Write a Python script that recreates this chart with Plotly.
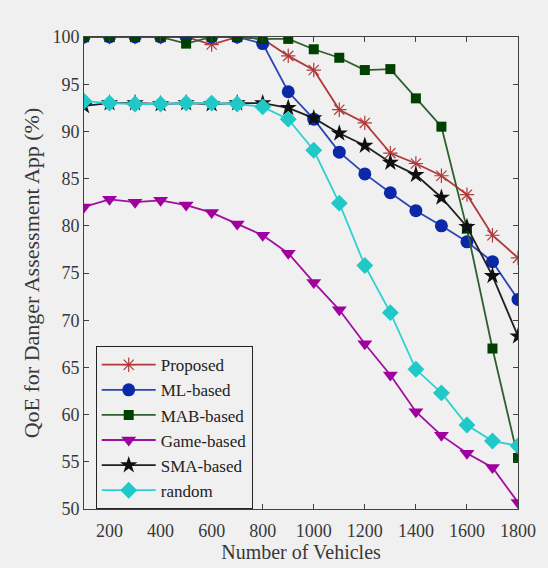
import plotly.graph_objects as go

vehicles = [100, 200, 300, 400, 500, 600, 700, 800, 900, 1000,
            1100, 1200, 1300, 1400, 1500, 1600, 1700, 1800]

proposed = [100, 100, 100, 100, 100, 99.2, 100, 99.8, 98.0, 96.5,
            92.3, 90.9, 87.7, 86.6, 85.3, 83.3, 79.0, 76.6]
ml_based = [100, 100, 100, 100, 100, 100, 100, 99.3, 94.2, 91.3,
            87.8, 85.5, 83.5, 81.6, 80.0, 78.3, 76.2, 72.2]
mab_based = [100, 100, 100, 100, 99.3, 100, 100, 99.8, 99.8, 98.7,
             97.8, 96.5, 96.6, 93.5, 90.5, 79.7, 67.0, 55.4]
game_based = [82.0, 82.8, 82.5, 82.7, 82.2, 81.4, 80.2, 79.0, 77.1, 74.0,
              71.1, 67.5, 64.2, 60.3, 57.8, 55.9, 54.4, 50.7]
sma_based = [92.7, 93.0, 93.0, 92.9, 93.0, 92.9, 93.0, 93.0, 92.5, 91.4,
             89.8, 88.5, 86.7, 85.4, 83.0, 79.9, 74.7, 68.3]
random_sel = [93.2, 93.0, 92.9, 92.9, 93.0, 93.0, 92.9, 92.6, 91.3, 88.0,
              82.4, 75.8, 70.8, 64.8, 62.3, 58.9, 57.2, 56.7]

x_ticks = [200, 400, 600, 800, 1000, 1200, 1400, 1600, 1800]
y_ticks = [50, 55, 60, 65, 70, 75, 80, 85, 90, 95, 100]

FONT = "Liberation Serif, Times New Roman, serif"
BG = "#f0f0f0"
TXT = "#383838"

series = [
    ("Proposed", proposed, "#b03a3a", dict(symbol="asterisk-open", size=12,
                                          line=dict(color="#a00000", width=1.2))),
    ("ML-based", ml_based, "#2a46b0", dict(symbol="circle", size=13, color="#0a28a8",
                                          line=dict(width=0))),
    ("MAB-based", mab_based, "#2f5e2f", dict(symbol="square", size=10, color="#004000",
                                            line=dict(width=0))),
    ("Game-based", game_based, "#a010a0", dict(symbol="triangle-down", size=13,
                                              color="#a000a0", line=dict(width=0))),
    ("SMA-based", sma_based, "#202020", dict(symbol="star", size=13, color="#101010",
                                            line=dict(width=0))),
    ("random", random_sel, "#30d0d0", dict(symbol="diamond", size=13, color="#20c8c8",
                                          line=dict(width=0))),
]

fig = go.Figure()
for name, vals, lc, mk in series:
    fig.add_trace(go.Scatter(
        x=vehicles, y=vals, name=name, mode="lines+markers",
        line=dict(color=lc, width=1.8), marker=mk,
    ))

axis_common = dict(
    showline=True, linecolor="#404040", linewidth=1, mirror="ticks",
    ticks="inside", ticklen=5, tickcolor="#404040",
    showgrid=False, zeroline=False,
    tickfont=dict(family=FONT, size=18, color=TXT),
)

fig.update_layout(
    width=548, height=568,
    margin=dict(l=84, r=23, t=37, b=59),
    paper_bgcolor=BG, plot_bgcolor=BG,
    font=dict(family=FONT, color=TXT),
    xaxis=dict(range=[100, 1800], tickvals=x_ticks, ticklabelstandoff=5,
               title=dict(text="Number of Vehicles", font=dict(family=FONT, size=20, color=TXT),
                          standoff=1),
               **axis_common),
    yaxis=dict(range=[50, 100], tickvals=y_ticks,
               title=dict(text="QoE for Danger Assessment App (%)",
                          font=dict(family=FONT, size=22, color=TXT), standoff=6),
               **axis_common),
    legend=dict(x=0.027, y=0.345, xanchor="left", yanchor="top",
                bgcolor=BG, bordercolor="#222222", borderwidth=1,
                font=dict(family=FONT, size=17, color="#222222"),
                itemwidth=54, tracegroupgap=0),
    showlegend=True,
)

fig.write_html("out.html")
